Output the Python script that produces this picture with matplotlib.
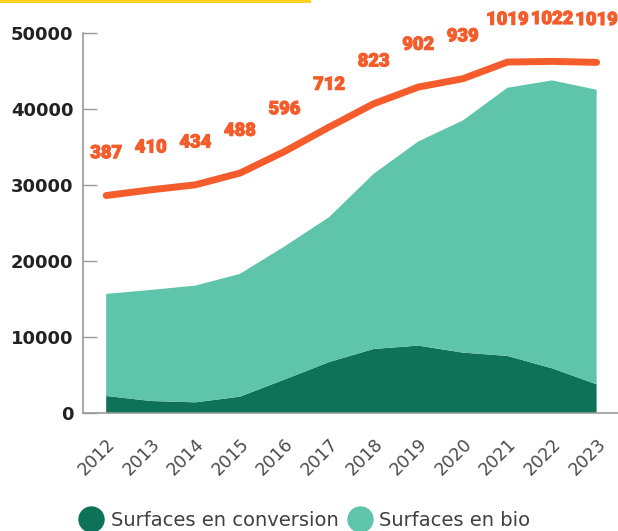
import matplotlib
matplotlib.use("Agg")
import matplotlib.pyplot as plt
from matplotlib.lines import Line2D
from matplotlib.patches import Rectangle
import matplotlib.patheffects as pe

years = [2012, 2013, 2014, 2015, 2016, 2017, 2018, 2019, 2020, 2021, 2022, 2023]
surfaces_conversion = [2240, 1580, 1400, 2150, 4400, 6700, 8420, 8860, 7940, 7500, 5880, 3770]
surfaces_bio = [13420, 14600, 15350, 16140, 17500, 19050, 23030, 26840, 30520, 35260, 37850, 38730]
line_values = [28590, 29340, 30000, 31540, 34380, 37590, 40660, 42850, 43950, 46140, 46230, 46100]
farm_labels = [387, 410, 434, 488, 596, 712, 823, 902, 939, 1019, 1022, 1019]
y_ticks = [0, 10000, 20000, 30000, 40000, 50000]

DARK = "#0d7258"
LIGHT = "#5ec4aa"
ORANGE = "#f45d2b"
YELLOW = "#ffd21f"

W, H = 618, 531
fig = plt.figure(figsize=(W / 100, H / 100), dpi=100)
ax = fig.add_axes([83 / W, (H - 413) / H, (618 - 83) / W, (413 - 32.7) / H])

ax.stackplot(years, surfaces_conversion, surfaces_bio, colors=[DARK, LIGHT],
             linewidth=0, zorder=2)
ax.plot(years, line_values, color=ORANGE, lw=5, solid_capstyle="round", zorder=3)

for x, y, lab in zip(years, line_values, farm_labels):
    ax.annotate(str(lab), (x, y), xytext=(0, 30.5), textcoords="offset points",
                ha="center", va="center", fontsize=13.2, fontweight="black",
                family=["Roboto", "DejaVu Sans"], color=ORANGE, clip_on=False,
                path_effects=[pe.withStroke(linewidth=0.8, foreground=ORANGE)],
                zorder=4)

ax.set_xlim(2011.48, 2023.48)
ax.set_ylim(0, 50000)
ax.set_yticks(y_ticks)
ax.set_yticklabels([str(v) for v in y_ticks], fontsize=13, fontweight="bold",
                   color="#222222")
ax.set_xticks(years)
ax.set_xticklabels([str(y) for y in years], rotation=45, ha="right", va="top",
                   rotation_mode="anchor", fontsize=12.5, color="#4a4a4a")

ax.tick_params(axis="y", direction="in", length=10, width=1, color="#999999", pad=7)
ax.tick_params(axis="x", length=0, pad=16)

for s in ["top", "right"]:
    ax.spines[s].set_visible(False)
for s in ["left", "bottom"]:
    ax.spines[s].set_color("#999999")
    ax.spines[s].set_linewidth(1.2)

fig.patches.append(Rectangle((0, 1 - 2.5 / H), 311 / W, 2.5 / H,
                             transform=fig.transFigure, color=YELLOW, lw=0))

handles = [Line2D([], [], marker="o", ls="", ms=18, color=DARK),
           Line2D([], [], marker="o", ls="", ms=18, color=LIGHT)]
fig.legend(handles, ["Surfaces en conversion", "Surfaces en bio"], ncol=2,
           loc="center", bbox_to_anchor=(304.5 / W, 1 - 520 / H),
           frameon=False, fontsize=14, labelcolor="#404040",
           handlelength=1.3, handletextpad=0.35, columnspacing=0.45,
           borderpad=0, borderaxespad=0)

fig.savefig("out.png", dpi=100)
